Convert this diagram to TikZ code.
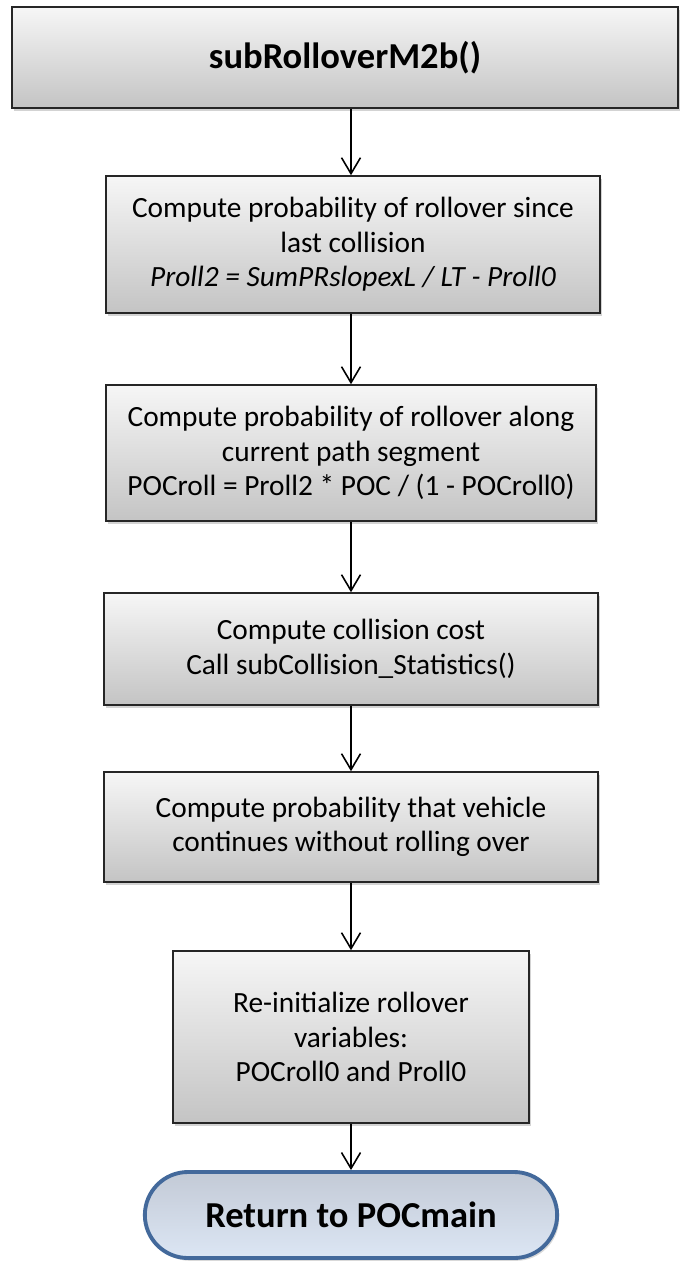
\documentclass[tikz,border=0pt]{standalone}
\usepackage{fontspec}
\setmainfont{Carlito}
\usetikzlibrary{arrows.meta,shadows,shapes.misc}
\definecolor{boxtop}{HTML}{F6F6F6}
\definecolor{boxbot}{HTML}{C4C4C4}
\definecolor{ovaltop}{HTML}{C3CAD6}
\definecolor{ovalbot}{HTML}{DCE6F4}
\definecolor{ovalline}{HTML}{43699B}
\begin{document}
\begin{tikzpicture}[x=0.2mm,y=-0.2mm,
  stepbox/.style={draw=black!85,line width=0.9pt,top color=boxtop,bottom color=boxbot,
    drop shadow={shadow xshift=1.2pt,shadow yshift=-1.6pt,opacity=0.35},
    align=center,inner sep=2pt,font=\fontsize{16.7}{19.6}\selectfont},
  ovalbox/.style={rounded rectangle,draw=ovalline,line width=2.2pt,top color=ovaltop,bottom color=ovalbot,
    drop shadow={shadow xshift=1.2pt,shadow yshift=-1.6pt,opacity=0.3},
    font=\fontsize{20.8}{24}\selectfont\bfseries},
  flow/.style={line width=0.9pt,-{Straight Barb[length=3.2mm,width=3.8mm,line width=0.9pt]}}]
\useasboundingbox (0,0) rectangle (680,1261);
% boxes
\node[stepbox,minimum width=13.32cm,minimum height=2.02cm,font=\fontsize{20.8}{24}\selectfont\bfseries] (title) at (345,57.5) {subRolloverM2b()};
\node[stepbox,minimum width=9.88cm,minimum height=2.74cm] (since) at (353,244.5)
  {Compute probability of rollover since\\ last collision\\ \itshape Proll2 = SumPRslopexL / LT - Proll0};
\node[stepbox,minimum width=9.8cm,minimum height=2.72cm] (along) at (351,453)
  {Compute probability of rollover along\\ current path segment\\ POCroll = Proll2 * POC / (1 - POCroll0)};
\node[stepbox,minimum width=9.88cm,minimum height=2.24cm] (cost) at (351,649)
  {Compute collision cost\\ Call subCollision\_Statistics()};
\node[stepbox,minimum width=9.88cm,minimum height=2.2cm] (cont) at (351,827)
  {Compute probability that vehicle\\ continues without rolling over};
\node[stepbox,minimum width=7.12cm,minimum height=3.44cm] (reinit) at (351,1037)
  {Re-initialize rollover\\ variables:\\ POCroll0 and Proll0};
\node[ovalbox,minimum width=8.48cm,minimum height=1.72cm] (ret) at (351,1215) {Return to POCmain};
% arrows
\foreach \a/\b in {title/since,since/along,along/cost,cost/cont,cont/reinit,reinit/ret}{
  \draw[flow] (\a.south-|351,0) -- (\b.north-|351,0);
}
\end{tikzpicture}
\end{document}
